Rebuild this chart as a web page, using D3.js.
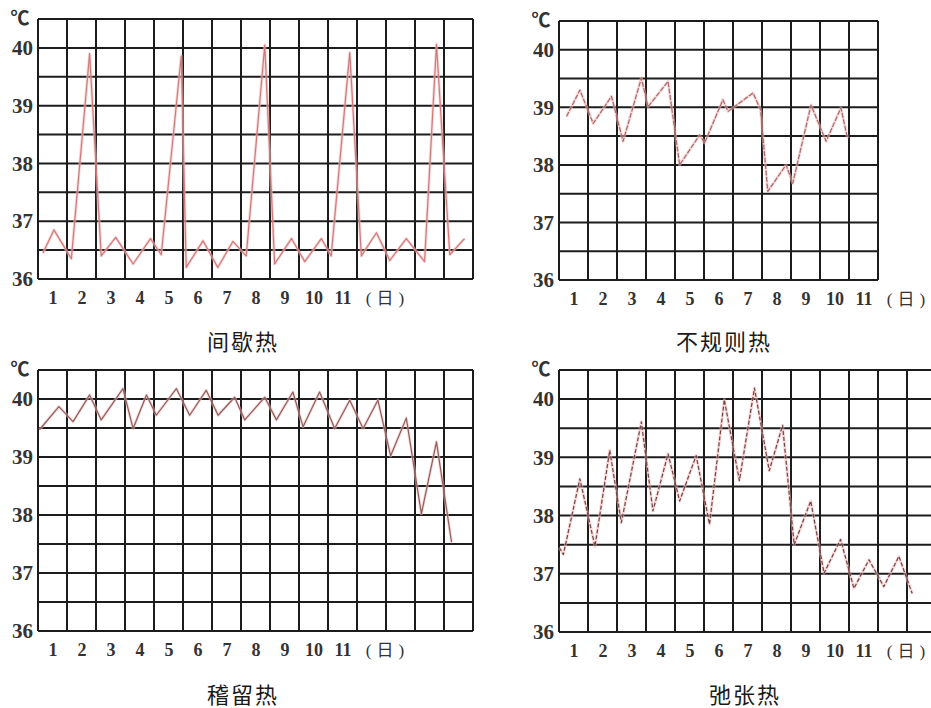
<!DOCTYPE html>
<html>
<head>
<meta charset="utf-8">
<script src="https://cdn.jsdelivr.net/npm/d3@7"></script>
<style>
  html, body { margin: 0; padding: 0; background: #ffffff; }
  svg { display: block; }
</style>
</head>
<body>
<div id="chart"></div>
<script>
// ---------- data ----------
const yTicks = [36, 37, 38, 39, 40];
const dayLabels = ["1", "2", "3", "4", "5", "6", "7", "8", "9", "10", "11"];
const dayUnit = "(日)";
const degreeLabel = "℃";
const titles = ["间歇热", "不规则热", "稽留热", "弛张热"];

// time positions are in day-columns from the left edge of each grid
const intermittentDays  = [0.17, 0.55, 1.15, 1.78, 2.18, 2.68, 3.28, 3.88, 4.25, 4.94, 5.11, 5.69, 6.20, 6.72, 7.18, 7.82, 8.16, 8.74, 9.20, 9.77, 10.11, 10.75, 11.15, 11.67, 12.13, 12.70, 13.33, 13.74, 14.20, 14.71];
const intermittentTemps = [36.45, 36.85, 36.35, 39.90, 36.40, 36.72, 36.26, 36.70, 36.42, 39.86, 36.20, 36.66, 36.20, 36.65, 36.40, 40.05, 36.26, 36.70, 36.30, 36.70, 36.40, 39.92, 36.40, 36.80, 36.32, 36.70, 36.30, 40.06, 36.42, 36.70];

const irregularDays  = [0.26, 0.72, 1.18, 1.81, 2.21, 2.84, 3.07, 3.76, 4.16, 4.85, 5.02, 5.65, 5.83, 6.69, 6.95, 7.20, 7.83, 8.06, 8.69, 9.21, 9.72, 9.95];
const irregularTemps = [38.84, 39.30, 38.72, 39.19, 38.41, 39.51, 39.01, 39.45, 38.00, 38.52, 38.38, 39.13, 38.93, 39.25, 38.96, 37.54, 38.00, 37.68, 39.04, 38.41, 38.99, 38.46];

const remittentContinuousDays  = [0.05, 0.72, 1.21, 1.78, 2.18, 2.93, 3.28, 3.74, 4.08, 4.77, 5.23, 5.80, 6.21, 6.78, 7.13, 7.82, 8.22, 8.79, 9.14, 9.71, 10.23, 10.75, 11.21, 11.72, 12.16, 12.70, 13.22, 13.74, 14.26];
const remittentContinuousTemps = [39.47, 39.87, 39.61, 40.07, 39.64, 40.18, 39.49, 40.07, 39.72, 40.18, 39.72, 40.15, 39.72, 40.03, 39.64, 40.03, 39.64, 40.12, 39.52, 40.12, 39.49, 39.98, 39.49, 39.98, 39.02, 39.67, 38.02, 39.26, 37.53];

const remittentDays  = [0.01, 0.15, 0.72, 1.24, 1.75, 2.15, 2.84, 3.24, 3.76, 4.16, 4.73, 5.19, 5.70, 6.22, 6.74, 7.25, 7.71, 8.11, 8.68, 9.14, 9.71, 10.17, 10.69, 11.20, 11.72, 12.18];
const remittentTemps = [37.45, 37.33, 38.63, 37.47, 39.12, 37.88, 39.61, 38.08, 39.06, 38.25, 39.03, 37.85, 39.99, 38.60, 40.19, 38.77, 39.55, 37.50, 38.25, 37.01, 37.59, 36.75, 37.24, 36.78, 37.30, 36.66];

// ---------- layout ----------
const W = 931, H = 708;
const colW = 29;
const panels = [
  { left: 38,  top: 19,  bottom: 279, cols: 15, days: intermittentDays, temps: intermittentTemps,
    title: titles[0], titleX: 243, titleY: 342, stroke: "#cf7a7a", dash: null },
  { left: 559, top: 21,  bottom: 280, cols: 11, days: irregularDays, temps: irregularTemps,
    title: titles[1], titleX: 724, titleY: 342, stroke: "#a86a6a", dash: "5,1.5" },
  { left: 38,  top: 370, bottom: 631, cols: 15, days: remittentContinuousDays, temps: remittentContinuousTemps,
    title: titles[2], titleX: 243, titleY: 695, stroke: "#8e5e5e", dash: null },
  { left: 559, top: 370, bottom: 632, cols: 13, days: remittentDays, temps: remittentTemps,
    title: titles[3], titleX: 745, titleY: 695, stroke: "#6e4444", dash: "4,2" }
];

const numFont = "'Liberation Serif', 'Times New Roman', serif";

const svg = d3.select("#chart").append("svg")
  .attr("width", W).attr("height", H)
  .attr("viewBox", `0 0 ${W} ${H}`);

panels.forEach(p => {
  const g = svg.append("g");
  const x = d3.scaleLinear().domain([0, p.cols]).range([p.left, p.left + p.cols * colW]);
  const y = d3.scaleLinear().domain([36, 40.5]).range([p.bottom, p.top]);

  // grid: every 0.5 degree horizontally, every day vertically
  const hVals = d3.range(36, 40.5001, 0.5);
  g.selectAll("line.h").data(hVals).join("line")
    .attr("x1", x(0)).attr("x2", x(p.cols))
    .attr("y1", d => y(d)).attr("y2", d => y(d))
    .attr("stroke", "#1c1c1c").attr("stroke-width", 2);
  g.selectAll("line.v").data(d3.range(0, p.cols + 1)).join("line")
    .attr("x1", d => x(d)).attr("x2", d => x(d))
    .attr("y1", y(40.5)).attr("y2", y(36))
    .attr("stroke", "#1c1c1c").attr("stroke-width", 2);

  // temperature curve
  const pts = p.days.map((d, i) => [d, p.temps[i]]);
  const line = d3.line().x(d => x(d[0])).y(d => y(d[1]));
  g.append("path").datum(pts)
    .attr("d", line).attr("fill", "none")
    .attr("stroke", "#f2b8b8").attr("stroke-width", 3).attr("stroke-opacity", 0.55)
    .attr("stroke-linejoin", "round");
  g.append("path").datum(pts)
    .attr("d", line).attr("fill", "none")
    .attr("stroke", p.stroke).attr("stroke-width", 1.2)
    .attr("stroke-dasharray", p.dash)
    .attr("stroke-linejoin", "round");

  // y axis labels
  const yAxis = d3.axisLeft(y).tickValues(yTicks).tickSize(0).tickPadding(5).tickFormat(d3.format("d"));
  const ya = g.append("g").attr("transform", `translate(${p.left},0)`).call(yAxis);
  ya.select(".domain").remove();
  ya.selectAll("text")
    .attr("font-family", numFont).attr("font-weight", "bold")
    .attr("font-size", 21).attr("fill", "#333");

  // x axis labels (day numbers at column centres)
  const xAxis = d3.axisBottom(x).tickValues(d3.range(0.5, dayLabels.length, 1))
    .tickSize(0).tickFormat((d, i) => dayLabels[i]);
  const xa = g.append("g").attr("transform", `translate(0,${p.bottom})`).call(xAxis);
  xa.select(".domain").remove();
  xa.selectAll("text")
    .attr("y", 19).attr("dy", "0.35em")
    .attr("font-family", numFont).attr("font-weight", "bold")
    .attr("font-size", 18).attr("fill", "#333");

  // unit "(日)"
  g.append("text")
    .attr("x", x(12.05)).attr("y", p.bottom + 19).attr("dy", "0.35em")
    .attr("text-anchor", "middle")
    .attr("font-family", numFont + ", 'Noto Sans CJK SC'")
    .attr("font-size", 17).attr("letter-spacing", 5).attr("fill", "#333")
    .text(dayUnit);

  // degree symbol
  g.append("text")
    .attr("x", p.left - 18).attr("y", p.top - 1).attr("dy", "0.35em")
    .attr("text-anchor", "middle")
    .attr("font-family", "'Noto Sans CJK SC', 'DejaVu Sans', sans-serif")
    .attr("font-size", 19).attr("font-weight", "bold").attr("fill", "#333")
    .text(degreeLabel);

  // title
  g.append("text")
    .attr("x", p.titleX).attr("y", p.titleY).attr("dy", "0.35em")
    .attr("text-anchor", "middle")
    .attr("font-family", "'Noto Sans CJK SC', sans-serif")
    .attr("font-size", 22).attr("letter-spacing", 2).attr("fill", "#1a1a1a")
    .text(p.title);
});
</script>
</body>
</html>
